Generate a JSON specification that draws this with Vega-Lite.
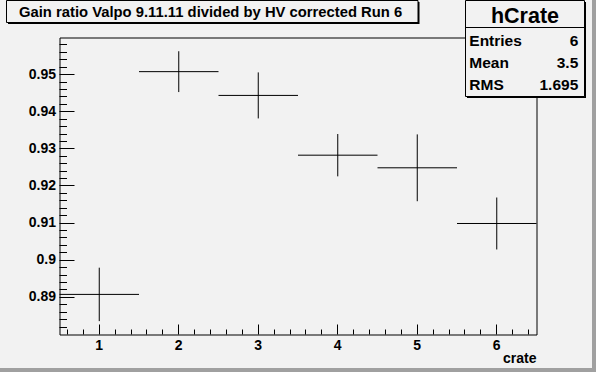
{
  "$schema": "https://vega.github.io/schema/vega-lite/v6.json",
  "width": 477,
  "height": 297,
  "autosize": {"type": "none"},
  "padding": {"left": 59.5, "top": 37.5, "right": 59.5, "bottom": 37.5},
  "background": "#f2f2f2",
  "config": {
    "view": {"stroke": "#000000", "strokeWidth": 1, "fill": "#f2f2f2"},
    "font": "Liberation Sans",
    "axis": {
      "grid": false, "domain": false, "translate": 0, "tickCount": 200,
      "labelFont": "Liberation Sans", "labelFontWeight": "bold", "labelFontSize": 14, "labelColor": "#000000",
      "tickColor": "#000000", "tickWidth": 1,
      "titleFont": "Liberation Sans", "titleFontWeight": "bold", "titleFontSize": 14, "titleColor": "#000000",
      "labelOverlap": false, "labelFlush": false
    }
  },
  "datasets": {
    "hist": [
      {"crate": 1, "ratio": 0.8908, "err": 0.0072, "halfwidth": 0.5},
      {"crate": 2, "ratio": 0.9508, "err": 0.0055, "halfwidth": 0.5},
      {"crate": 3, "ratio": 0.9444, "err": 0.0062, "halfwidth": 0.5},
      {"crate": 4, "ratio": 0.9283, "err": 0.0057, "halfwidth": 0.5},
      {"crate": 5, "ratio": 0.9249, "err": 0.0090, "halfwidth": 0.5},
      {"crate": 6, "ratio": 0.9099, "err": 0.0070, "halfwidth": 0.5}
    ],
    "stats": [
      {"label": "Entries", "stat": "6", "row": 1},
      {"label": "Mean", "stat": "3.5", "row": 2},
      {"label": "RMS", "stat": "1.695", "row": 3}
    ],
    "one": [{"title": "Gain ratio Valpo 9.11.11 divided by HV corrected Run 6", "name": "hCrate"}]
  },
  "layer": [
    {
      "data": {"name": "hist"},
      "mark": {"type": "errorbar", "color": "#000000", "thickness": 1},
      "encoding": {
        "x": {"field": "crate", "type": "quantitative", "scale": {"domain": [0.5, 6.5], "nice": false, "zero": false},
          "axis": {"title": "crate", "titleX": 477, "titleY": 28.5, "titleAlign": "right", "titleAnchor": "end", "titleBaseline": "alphabetic",
            "tickCount": 200,
            "values": [0.6,0.8,1,1.2,1.4,1.6,1.8,2,2.2,2.4,2.6,2.8,3,3.2,3.4,3.6,3.8,4,4.2,4.4,4.6,4.8,5,5.2,5.4,5.6,5.8,6,6.2,6.4],
            "labelExpr": "abs(datum.value - round(datum.value)) < 0.01 ? format(datum.value, 'd') : ''",
            "tickSize": {"condition": {"test": "abs(datum.value - round(datum.value)) < 0.01", "value": -10}, "value": -5},
            "labelPadding": 14, "labelBaseline": "top"}},
        "xError": {"field": "halfwidth"},
        "y": {"field": "ratio", "type": "quantitative", "scale": {"domain": [0.88, 0.96], "nice": false, "zero": false},
          "axis": {"title": null, "tickCount": 200,
            "values": [0.882,0.884,0.886,0.888,0.89,0.892,0.894,0.896,0.898,0.9,0.902,0.904,0.906,0.908,0.91,0.912,0.914,0.916,0.918,0.92,0.922,0.924,0.926,0.928,0.93,0.932,0.934,0.936,0.938,0.94,0.942,0.944,0.946,0.948,0.95,0.952,0.954,0.956,0.958],
            "labelExpr": "abs(datum.value*100 - round(datum.value*100)) < 0.01 ? format(datum.value, '.2~f') : ''",
            "tickSize": {"condition": {"test": "abs(datum.value*100 - round(datum.value*100)) < 0.01", "value": -15}, "value": -7.5},
            "labelPadding": 18.5}}
      }
    },
    {
      "data": {"name": "hist"},
      "mark": {"type": "errorbar", "color": "#000000", "thickness": 1},
      "encoding": {
        "x": {"field": "crate", "type": "quantitative"},
        "y": {"field": "ratio", "type": "quantitative"},
        "yError": {"field": "err"}
      }
    },
    {
      "data": {"name": "one"},
      "mark": {"type": "rect", "fill": "#000000"},
      "encoding": {"x": {"value": -51.5}, "x2": {"value": 360}, "y": {"value": -35.5}, "y2": {"value": -13.5}}
    },
    {
      "data": {"name": "one"},
      "mark": {"type": "rect", "fill": "#f2f2f2", "stroke": "#000000", "strokeWidth": 1},
      "encoding": {"x": {"value": -53}, "x2": {"value": 358.5}, "y": {"value": -37}, "y2": {"value": -15}}
    },
    {
      "data": {"name": "one"},
      "mark": {"type": "text", "align": "left", "baseline": "alphabetic", "font": "Liberation Sans", "fontWeight": "bold", "fontSize": 14.8, "color": "#000000"},
      "encoding": {"text": {"field": "title"}, "x": {"value": -40.5}, "y": {"value": -20.5}}
    },
    {
      "data": {"name": "one"},
      "mark": {"type": "rect", "fill": "#000000"},
      "encoding": {"x": {"value": 407.5}, "x2": {"value": 526.5}, "y": {"value": -35.5}, "y2": {"value": 60.5}}
    },
    {
      "data": {"name": "one"},
      "mark": {"type": "rect", "fill": "#f2f2f2", "stroke": "#000000", "strokeWidth": 1},
      "encoding": {"x": {"value": 406}, "x2": {"value": 525}, "y": {"value": -37}, "y2": {"value": 59}}
    },
    {
      "data": {"name": "one"},
      "mark": {"type": "rule", "color": "#000000", "strokeWidth": 1},
      "encoding": {"x": {"value": 406}, "x2": {"value": 525}, "y": {"value": -10}}
    },
    {
      "data": {"name": "one"},
      "mark": {"type": "text", "align": "center", "baseline": "alphabetic", "font": "Liberation Sans", "fontWeight": "bold", "fontSize": 21.5, "color": "#000000"},
      "encoding": {"text": {"field": "name"}, "x": {"value": 465.5}, "y": {"value": -15}}
    },
    {
      "data": {"name": "stats"},
      "mark": {"type": "text", "align": "left", "baseline": "alphabetic", "font": "Liberation Sans", "fontWeight": "bold", "fontSize": 15.5, "color": "#000000"},
      "encoding": {"text": {"field": "label"}, "x": {"value": 409.8}, "y": {"value": 0},
        "yOffset": {"field": "row", "type": "quantitative", "scale": {"domain": [1, 3], "range": [8, 52.5]}}}
    },
    {
      "data": {"name": "stats"},
      "mark": {"type": "text", "align": "right", "baseline": "alphabetic", "font": "Liberation Sans", "fontWeight": "bold", "fontSize": 15.5, "color": "#000000"},
      "encoding": {"text": {"field": "stat"}, "x": {"value": 518.8}, "y": {"value": 0},
        "yOffset": {"field": "row", "type": "quantitative", "scale": {"domain": [1, 3], "range": [8, 52.5]}}}
    },
    {
      "data": {"name": "one"},
      "mark": {"type": "rect", "fill": "#a0a0a0"},
      "encoding": {"x": {"value": -59.5}, "x2": {"value": 536.5}, "y": {"value": 330.5}, "y2": {"value": 334.5}}
    },
    {
      "data": {"name": "one"},
      "mark": {"type": "rect", "fill": "#a0a0a0"},
      "encoding": {"x": {"value": 532.5}, "x2": {"value": 536.5}, "y": {"value": -37.5}, "y2": {"value": 334.5}}
    }
  ]
}
